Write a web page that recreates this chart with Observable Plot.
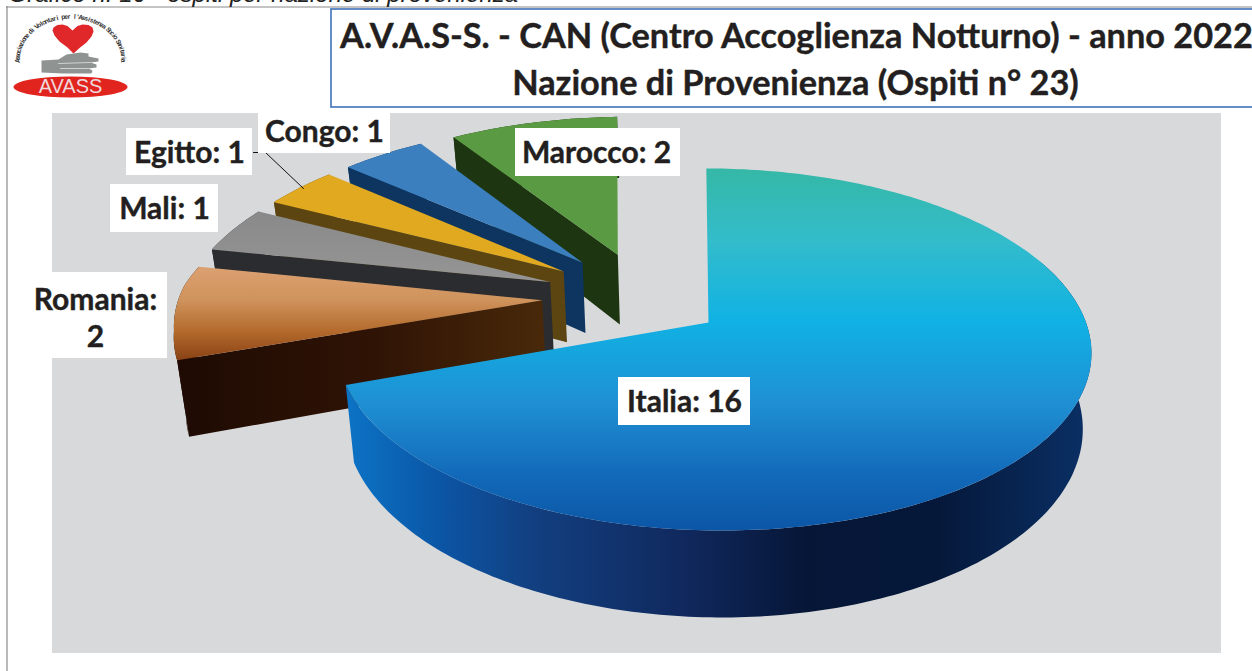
<!DOCTYPE html>
<html><head><meta charset="utf-8">
<script src="https://cdn.jsdelivr.net/npm/d3@7"></script>
<script src="https://cdn.jsdelivr.net/npm/@observablehq/plot@0.6"></script>
<style>html,body{margin:0;padding:0;background:#fff;overflow:hidden}svg{display:block}</style>
</head><body><div id="chart"></div>
<script>
// ---- data
const categories = ["Italia", "Romania", "Mali", "Egitto", "Congo", "Marocco"];
const ospiti = [16, 2, 1, 1, 1, 2];
const chartTitle = ["A.V.A.S-S. - CAN (Centro Accoglienza Notturno) - anno 2022", "Nazione di Provenienza (Ospiti n° 23)"];
const caption = "Grafico n. 16 - ospiti per nazione di provenienza";
const logoArc = "Associazione di Volontari per l'Assistenza Socio Sanitaria";

// ---- perspective model of the pie plane
const W = 1252, H = 671, X0 = 708, Y0 = 322, A = 373, B = 177, K = 0.149, DEPTH = 74, INSET = 0.0226;
const EXPLODE = 0.27, SHIFT = [-0.185, -0.146], MAIN_SHEAR = 7, MAIN_ARC_DX = 0.012;
const clamp01 = t => Math.max(0, Math.min(1, t));
const DEG = Math.PI / 180;
function proj(u, v, bottom, shear = 0) {
  const w = 1 - K * v;
  const a = bottom ? A * (1 - INSET) : A;
  return {x: X0 + (a * u + shear * v) / w, y: Y0 + (B * v + (bottom ? DEPTH : 0)) / w};
}
const total = d3.sum(ospiti);
let cum = 0;
const slices = categories.map((name, i) => {
  const t0 = cum / total * 2 * Math.PI; cum += ospiti[i];
  const t1 = cum / total * 2 * Math.PI, mid = (t0 + t1) / 2;
  const exploded = i > 0;
  const o = exploded ? [EXPLODE * Math.sin(mid) + SHIFT[0], -EXPLODE * Math.cos(mid) + SHIFT[1]] : [0, 0];
  return {name, exploded, t0, t1, o, shear: exploded ? 0 : MAIN_SHEAR, dx: exploded ? 0 : MAIN_ARC_DX, wallFrom: exploded ? t0 : 1.2};
});
// rim point of a slice at angle t: the fan of small slices is slightly skewed in the source's perspective
function rim(s, t) {
  if (!s.exploded) return [s.o[0] + s.dx + Math.sin(t), s.o[1] - Math.cos(t)];
  const deg = t / DEG;
  const tw = t - 2.2 * DEG * clamp01((deg - 295) / 15);
  const du = 0.016 * clamp01((275 - deg) / 15);
  return [s.o[0] + du + Math.sin(tw), s.o[1] - Math.cos(tw)];
}
const arcPts = (s, bottom, from = s.t0) => {
  const n = Math.max(8, Math.round((s.t1 - from) * 60)), out = [];
  for (let j = 0; j <= n; ++j) {
    const [u, v] = rim(s, from + (s.t1 - from) * j / n);
    out.push(proj(u, v, bottom, s.shear));
  }
  return out;
};
const topFace = s => [proj(s.o[0], s.o[1], false, s.shear), ...arcPts(s, false), proj(s.o[0], s.o[1], false, s.shear)];
const arcWall = s => [...arcPts(s, false, s.wallFrom), ...arcPts(s, true, s.wallFrom).reverse()];
const radWall = s => {
  const e = rim(s, s.t0);
  return [proj(s.o[0], s.o[1]), proj(e[0], e[1]), proj(e[0], e[1], true), proj(s.o[0], s.o[1], true)];
};

// ---- styles
const topFill = {Italia: "url(#gItaliaTop)", Romania: "url(#gRomTop)", Mali: "url(#gMali)", Egitto: "#e0a91f", Congo: "#3b7fbf", Marocco: "#5a9a42"};
const wallFill = {Italia: "url(#gItaliaSide)", Romania: "url(#gRomSide)", Mali: "#2a2c30", Egitto: "#5c4510", Congo: "#0d3560", Marocco: "#1d3510"};

function grad(id, x1, y1, x2, y2, stops) {
  return `<linearGradient id="${id}" gradientUnits="userSpaceOnUse" x1="${x1}" y1="${y1}" x2="${x2}" y2="${y2}">` +
    stops.map(([o, c]) => `<stop offset="${o}" stop-color="${c}"/>`).join("") + `</linearGradient>`;
}
const defsMark = () => {
  const d = document.createElementNS("http://www.w3.org/2000/svg", "defs");
  d.innerHTML =
    grad("gItaliaTop", 0, 168, 0, 530, [[0, "#35b8a6"], [0.2, "#33bccb"], [0.42, "#10b2e4"], [0.65, "#1f8fd3"], [0.85, "#1269b9"], [1, "#0c56a6"]]) +
    grad("gItaliaSide", 350, 0, 1085, 0, [[0, "#0c72c4"], [0.12, "#0b56a6"], [0.25, "#123f80"], [0.45, "#10295e"], [0.62, "#061637"], [0.8, "#05183a"], [1, "#0a2f64"]]) +
    grad("gRomTop", 0, 268, 0, 358, [[0, "#dba070"], [0.35, "#cf935c"], [0.7, "#b46a2c"], [1, "#8c4416"]]) +
    grad("gRomSide", 190, 0, 553, 0, [[0, "#1f0b03"], [0.5, "#2f1305"], [1, "#4a2a0a"]]) +
    grad("gMali", 0, 215, 0, 310, [[0, "#8a8a8a"], [1, "#9a9a9a"]]);
  return d;
};

// ---- chart marks: painted back to front
const poly = (pts, fill) => Plot.line(pts, {x: "x", y: "y", fill, stroke: "none", curve: "linear"});
const sliceMarks = [];
for (const i of [5, 4, 3, 2, 1, 0]) {
  const s = slices[i];
  sliceMarks.push(poly(arcWall(s), wallFill[s.name]));
  if (i > 0) sliceMarks.push(poly(radWall(s), wallFill[s.name]));
  sliceMarks.push(poly(topFace(s), topFill[s.name]));
}

// ---- annotation layout
const FONT = "Lato, Carlito, 'Open Sans', sans-serif";
const INK = "#231f20";
const boxes = [
  {x1: 258, x2: 390, y1: 112, y2: 153, lines: [[324, 132, `${categories[4]}: ${ospiti[4]}`]]},
  {x1: 126, x2: 252, y1: 128, y2: 175, lines: [[189, 153, `${categories[3]}: ${ospiti[3]}`]]},
  {x1: 110, x2: 218, y1: 184, y2: 232, lines: [[164, 209, `${categories[2]}: ${ospiti[2]}`]]},
  {x1: 20, x2: 167, y1: 272, y2: 358, lines: [[95, 300, `${categories[1]}:`], [95, 337, `${ospiti[1]}`]]},
  {x1: 515, x2: 680, y1: 128, y2: 176, lines: [[596, 153, `${categories[5]}: ${ospiti[5]}`]]},
  {x1: 618, x2: 750, y1: 377, y2: 425, lines: [[684, 402, `${categories[0]}: ${ospiti[0]}`]]}
];
const labelTexts = boxes.flatMap(b => b.lines.map(([x, y, t]) => ({x, y, t})));

// ---- logo
const logoC = [70, 60], logoR = [53, 44];
const arcChars = Array.from(logoArc).map((c, i, a) => {
  const t = (-90 + 180 * i / (a.length - 1)) * Math.PI / 180;
  return {c, x: logoC[0] + logoR[0] * Math.sin(t), y: logoC[1] - logoR[1] * Math.cos(t), r: t * 180 / Math.PI};
});
const toPts = a => a.map(([x, y]) => ({x, y}));
const heart = toPts([[73,53],[67,47],[59,41],[54,35],[52,30],[53,27],[57,24.5],[62,24],[67,25.5],[72,30],[77,25.5],[82,24],[88,24.5],[92,27],[93,31],[91,36],[86,42],[79,47.5]]);
const hand = toPts([[41,60],[58,59],[66,54],[80,52],[88,53],[88,56],[98,58],[98,61],[90,62],[96,64],[96,67],[88,68],[92,70],[91,73],[63,73],[41,72]]);
const handLines = [[{x: 58, y: 63}, {x: 90, y: 62}], [{x: 60, y: 68}, {x: 88, y: 68}]];
const logoMarks = [
  poly(heart, "#e0282a"),
  poly(hand, "#8f9493"),
  ...handLines.map(l => Plot.line(l, {x: "x", y: "y", stroke: "#cfd3d2", strokeWidth: 1})),
  Plot.dot([{x: 70, y: 86.5}], {x: "x", y: "y", r: 1, fill: "#e2241f", stroke: "none",
    render: (index, scales, values, dim, ctx, next) => { const g = next(index, scales, values, dim, ctx); const c = g.querySelector("circle"); const e = document.createElementNS("http://www.w3.org/2000/svg", "ellipse"); e.setAttribute("cx", c.getAttribute("cx")); e.setAttribute("cy", c.getAttribute("cy")); e.setAttribute("rx", 57); e.setAttribute("ry", 10.5); e.setAttribute("fill", "#e2241f"); c.replaceWith(e); return g; }}),
  Plot.text(["AVASS"], {x: () => 70, y: () => 86.5, text: d => d, fill: "#eed9dc", fontSize: 20, fontFamily: "'Liberation Sans', sans-serif"}),
  Plot.text(arcChars, {x: "x", y: "y", text: "c", rotate: "r", fill: "#333", fontSize: 6.6, fontWeight: 700, fontFamily: "'Liberation Sans', sans-serif"})
];

const chart = Plot.plot({
  width: W, height: H, margin: 0,
  style: {background: "#fff", overflow: "hidden"},
  x: {domain: [0, W], range: [0, W], axis: null},
  y: {domain: [0, H], range: [0, H], axis: null},
  marks: [
    defsMark,
    // frame
    Plot.ruleX([6.5], {y1: 6, y2: H, stroke: "#8a8a8a", strokeWidth: 1.2}),
    Plot.ruleY([6.5], {x1: 6, x2: W, stroke: "#8a8a8a", strokeWidth: 1.2}),
    // caption above the frame, cropped by the page edge as in the source
    Plot.text([caption], {x: () => 8, y: () => -6, text: d => d, textAnchor: "start", fontStyle: "italic", fontSize: 24, fill: "#222", fontFamily: "'Liberation Sans', sans-serif"}),
    // title box
    Plot.rect([0], {x1: () => 331, x2: () => W + 4, y1: () => 9, y2: () => 107, fill: "#fff", stroke: "#3f72b8", strokeWidth: 1.6}),
    Plot.text([chartTitle[0]], {x: () => 796, y: () => 37, text: d => d, fontSize: 34.3, fontWeight: 700, fill: INK, stroke: INK, strokeWidth: 0.4, fontFamily: FONT}),
    Plot.text([chartTitle[1]], {x: () => 795, y: () => 84, text: d => d, fontSize: 34.3, fontWeight: 700, fill: INK, stroke: INK, strokeWidth: 0.4, fontFamily: FONT}),
    // plot background
    Plot.rect([0], {x1: () => 52, x2: () => 1221, y1: () => 113, y2: () => 653, fill: "#d8d9da"}),
    ...sliceMarks,
    // leader
    Plot.line([{x: 253, y: 152}, {x: 265, y: 152}, {x: 303, y: 188}], {x: "x", y: "y", stroke: "#111", strokeWidth: 1}),
    // labels
    Plot.rect(boxes, {x1: "x1", x2: "x2", y1: "y1", y2: "y2", fill: "#fff"}),
    Plot.text(labelTexts, {x: "x", y: "y", text: "t", fontSize: 30, fontWeight: 700, fill: INK, stroke: INK, strokeWidth: 0.4, fontFamily: FONT}),
    ...logoMarks
  ]
});
document.getElementById("chart").append(chart);
</script></body></html>
